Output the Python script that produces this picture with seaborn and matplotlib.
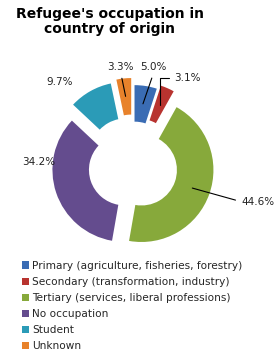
import numpy as np
import seaborn as sns
import matplotlib
matplotlib.use("Agg")
import matplotlib.pyplot as plt
from matplotlib.patches import Patch

# Data
categories = ["Primary (agriculture, fisheries, forestry)",
              "Secondary (transformation, industry)",
              "Tertiary (services, liberal professions)",
              "No occupation",
              "Student",
              "Unknown"]
shares = [5.0, 3.1, 44.6, 34.2, 9.7, 3.3]
labels = ["5.0%", "3.1%", "44.6%", "34.2%", "9.7%", "3.3%"]
colors = ["#3a6cb4", "#b8332f", "#87a93b", "#644c8e", "#2b9bb7", "#e8822b"]

sns.set_theme(style="white")
plt.rcParams["font.family"] = ["DejaVu Sans"]

fig = plt.figure(figsize=(2.75, 3.52), dpi=100)
ax = fig.add_axes([0.129, 0.2486, 0.709, 0.554])

explode = [0.133, 0.187, 0.12, 0.12, 0.2, 0.227]
wedges, _ = ax.pie(shares, colors=colors, startangle=90, counterclock=False,
                   radius=0.96, explode=explode,
                   wedgeprops=dict(width=0.487, edgecolor="none"))
ax.set_xlim(-1.3, 1.3)
ax.set_ylim(-1.3, 1.3)
ax.set_aspect("equal")
ax.axis("off")

# label placement relative to the pie centre
label_r = [1.36, 1.42, 1.73, 1.26, 1.50, 1.34]
label_shift = [-2.8, -9.5, 4, -21.6, 11.3, 1.1]
leader = [True, True, True, False, False, True]
text_ha = ["center", "left", "left", "center", "center", "center"]
conn = ["arc3", "angle,angleA=180,angleB=90,rad=0", "arc3", None, None, "arc3"]

for w, txt, r, sh, ld, ha, cs in zip(wedges, labels, label_r, label_shift,
                                     leader, text_ha, conn):
    mid = np.deg2rad((w.theta1 + w.theta2) / 2)
    cx, cy = w.center
    tx = r * np.cos(mid + np.deg2rad(sh))
    ty = r * np.sin(mid + np.deg2rad(sh))
    if ha == "left":
        tx -= 0.22
    if ld:
        px = cx + 0.72 * np.cos(mid)
        py = cy + 0.72 * np.sin(mid)
        relpos = (0, 0.5) if ha == "left" else (0.5, 0)
        ax.annotate(txt, xy=(px, py), xytext=(tx, ty), fontsize=7.5,
                    ha=ha, va="center", color="#222222",
                    arrowprops=dict(arrowstyle="-", color="black", lw=0.8,
                                    connectionstyle=cs, relpos=relpos,
                                    shrinkA=2, shrinkB=0))
    else:
        ax.text(tx, ty, txt, fontsize=7.5, ha=ha, va="center",
                color="#222222")

fig.text(0.40, 0.94, "Refugee's occupation in\ncountry of origin",
         ha="center", va="center", fontsize=10, fontweight="bold",
         color="black", linespacing=1.1)

handles = [Patch(facecolor=c, edgecolor="none") for c in colors]
fig.legend(handles, categories, loc="upper left", bbox_to_anchor=(0.06, 0.274),
           frameon=False, fontsize=7.6, handlelength=0.7, handleheight=0.7,
           handletextpad=0.3, labelspacing=0.58, borderpad=0)

fig.savefig("out.png", dpi=100)
